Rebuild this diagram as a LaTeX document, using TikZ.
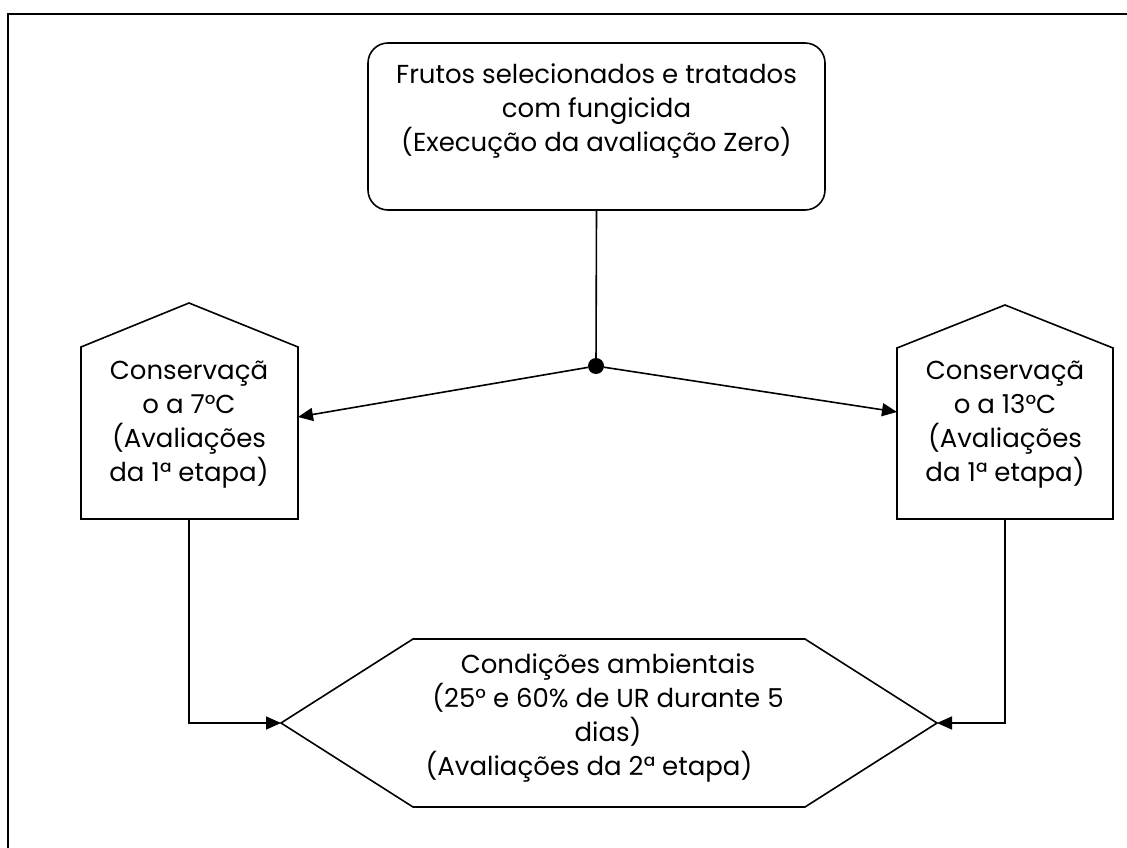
\documentclass[tikz,border=0pt]{standalone}
\usepackage{fontspec}
\setmainfont{Poppins}
\usepackage{tikz}
\usetikzlibrary{positioning}
\usetikzlibrary{arrows.meta}
\pgfdeclarelayer{nodelayer}
\pgfdeclarelayer{edgelayer}
\pgfsetlayers{nodelayer,edgelayer,main}
\tikzset{
  txt/.style={align=center, inner sep=0pt, font=\fontsize{26}{34}\selectfont},
  traco/.style={line width=1.6pt},
  seta/.style={traco, -{Triangle[length=15pt,width=13pt]}},
}
\begin{document}
\begin{tikzpicture}[x=1pt, y=-1pt]
  \useasboundingbox (0, 0) rectangle (1127, 848);
  \draw [line width=2.4pt] (8, 14) rectangle (1140, 860);
  \begin{pgfonlayer}{nodelayer}
    \node [txt, traco, draw, rounded corners=20pt, minimum width=457pt, minimum height=167pt] (0) at (596.5, 126.5) {Frutos selecionados e tratados\\com fungicida\\(Execução da avaliação Zero)\\[4pt]};
    \node [circle, fill, inner sep=0pt, minimum size=16pt] (1) at (596, 366) {};
    \node [txt] (2) at (189, 425) {Conservaçã\\o a 7°C\\(Avaliações\\da 1ª etapa)};
    \node [txt] (3) at (1005, 425) {Conservaçã\\o a 13°C\\(Avaliações\\da 1ª etapa)};
    \node [txt] (4) at (608, 718) {Condições ambientais\\(25° e 60\% de UR durante 5\\dias)\\\hspace*{-38pt}(Avaliações da 2ª etapa)};
    \coordinate (5) at (298, 417);
    \coordinate (6) at (897, 412);
    \coordinate (7) at (189, 519);
    \coordinate (8) at (1005, 519);
    \coordinate (9) at (281, 723);
    \coordinate (10) at (937, 723);
  \end{pgfonlayer}
  \begin{pgfonlayer}{edgelayer}
    % casinhas e hexagono
    \draw [traco] (81, 519) -- (298, 519) -- (298, 347) -- (189, 303) -- (81, 347) -- cycle;
    \draw [traco] (897, 519) -- (1113, 519) -- (1113, 348) -- (1005, 305) -- (897, 348) -- cycle;
    \draw [traco] (9) -- (413, 639) -- (805, 639) -- (10) -- (805, 807) -- (413, 807) -- cycle;
    \draw [traco] (0.south) to (1);
    \draw [seta] (1) to (5);
    \draw [seta] (1) to (6);
    \draw [seta] (7) |- (9);
    \draw [seta] (8) |- (10);
  \end{pgfonlayer}
\end{tikzpicture}
\end{document}
